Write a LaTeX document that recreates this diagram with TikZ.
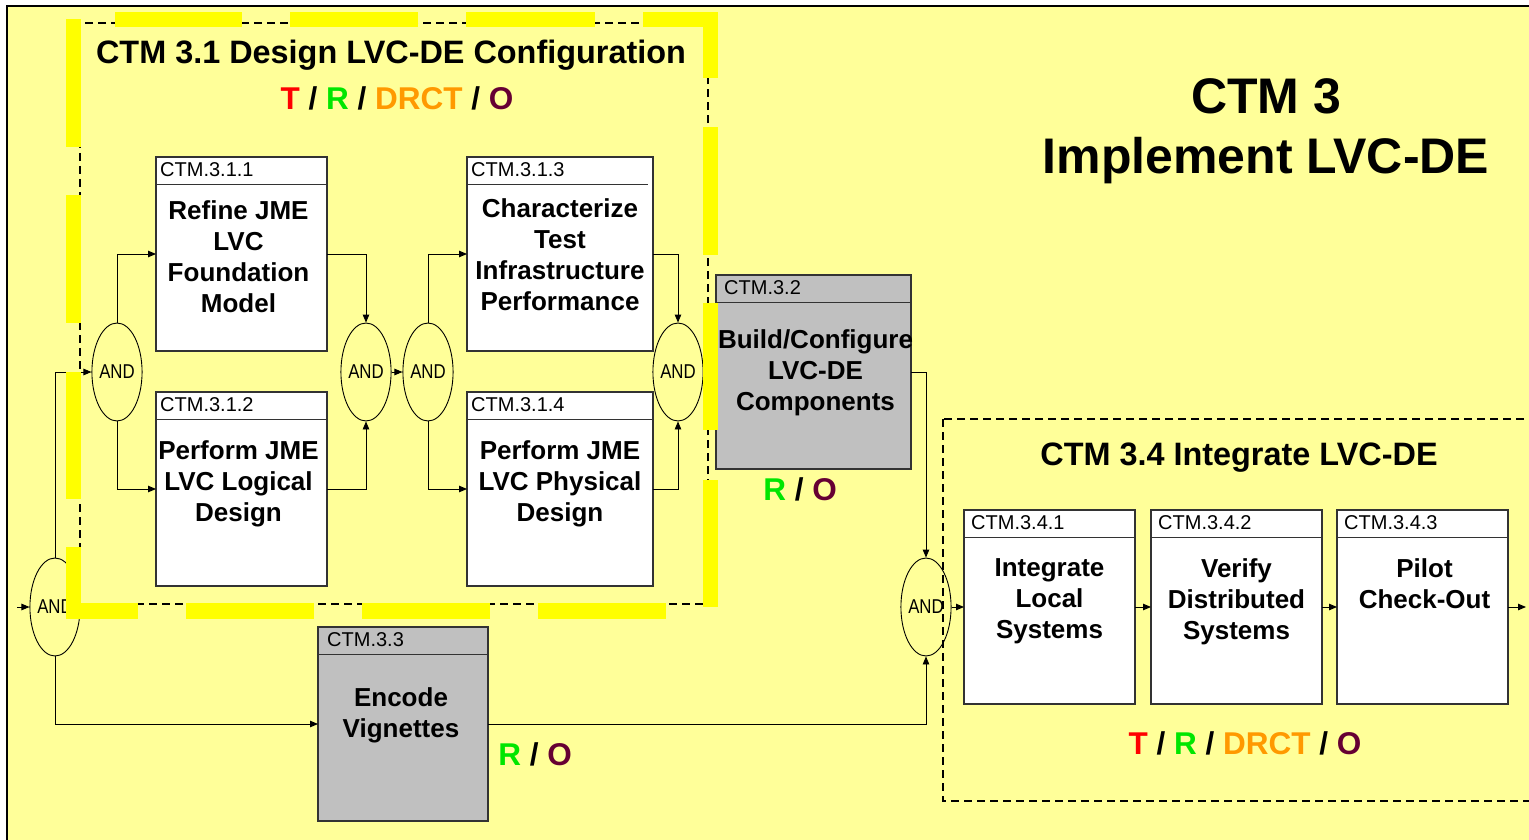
\documentclass[tikz,border=0pt]{standalone}
\usepackage{fontspec}
\setmainfont{Liberation Sans}
\newfontfamily\narrowsans[FakeStretch=0.84]{Liberation Sans}
\usetikzlibrary{arrows.meta,shapes.geometric}
\definecolor{bgy}{HTML}{FFFF99}
\definecolor{hiy}{HTML}{FFFF00}
\definecolor{tred}{HTML}{FF0000}
\definecolor{rgreen}{HTML}{00E600}
\definecolor{dorange}{HTML}{FF9900}
\definecolor{omaroon}{HTML}{660033}
\definecolor{boxgray}{HTML}{C0C0C0}
\newcommand{\TRDOlab}{\textcolor{tred}{T} / \textcolor{rgreen}{R} / \textcolor{dorange}{DRCT} / \textcolor{omaroon}{O}}
\newcommand{\ROlab}{\textcolor{rgreen}{R} / \textcolor{omaroon}{O}}
\begin{document}
\begin{tikzpicture}[x=1pt,y=-1pt,
 box/.style={draw=black!80, line width=1.1pt, fill=white, minimum width=#1, minimum height=194pt, anchor=north west, inner sep=0pt, outer sep=0pt},
 graybox/.style={box=#1, fill=boxgray},
 hline/.style={draw=black!80, line width=1.1pt},
 hdr/.style={anchor=west, inner sep=0pt, font=\fontsize{20}{24}\selectfont},
 body/.style={anchor=north, inner sep=0pt, align=center, font=\fontsize{26}{31}\selectfont\bfseries},
 andnode/.style={ellipse, draw=black, line width=0.9pt, minimum width=46pt, minimum height=98pt, inner sep=0pt, font=\narrowsans\fontsize{20}{22}\selectfont},
 conn/.style={draw=black, line width=0.9pt, -{Triangle[length=8pt,width=6.5pt]}},
 frame/.style={draw=black, line width=1.2pt, dash pattern=on 8pt off 5pt},
 hi/.style={fill=hiy},
 bigtitle/.style={anchor=base, inner sep=0pt, font=\fontsize{32.4}{38}\selectfont\bfseries},
 tag/.style={anchor=base, inner sep=0pt, font=\fontsize{31.5}{36}\selectfont\bfseries}
]
\useasboundingbox (0,0) rectangle (1529,840);
\clip (0,0) rectangle (1529,840);
\fill[white] (0,0) rectangle (1529,840);
\draw[line width=1.5pt, fill=bgy] (7,6) rectangle (1560,860);

% frames
\draw[frame] (80,23) rectangle (708,604);
\draw[frame] (943,419) rectangle (1560,801);

% main title
\node[anchor=north, inner sep=0pt, align=center, font=\fontsize{50}{60}\selectfont\bfseries] (main) at (1266,78) {CTM 3\\Implement LVC-DE};

% CTM 3.1 titles
\node[bigtitle] (t31) at (391,63.5) {CTM 3.1 Design LVC-DE Configuration};
\node[tag] (r31) at (397,110) {\TRDOlab};

% boxes
\node[box=171pt] (b311) at (156,157) {};
\node[box=171pt] (b312) at (156,392) {};
\node[box=186pt] (b313) at (467,157) {};
\node[box=186pt] (b314) at (467,392) {};
\node[graybox=195pt] (b32) at (716,275) {};
\node[graybox=170pt] (b33) at (318,627) {};
\node[box=171pt] (b341) at (964,510) {};
\node[box=171pt] (b342) at (1151,510) {};
\node[box=171pt] (b343) at (1337,510) {};

% header lines
\foreach \b in {b311,b312,b314,b32,b33,b341,b342,b343}
  \draw[hline] ([yshift=-27.5pt]\b.north west) -- ([yshift=-27.5pt]\b.north east);
\draw[hline] ([yshift=-27.5pt]b313.north west) -- ([yshift=-27.5pt,xshift=-5pt]b313.north east);

% header texts
\node[hdr] (h311) at ([xshift=4pt,yshift=-12.5pt]b311.north west) {CTM.3.1.1};
\node[hdr] (h312) at ([xshift=4pt,yshift=-12.5pt]b312.north west) {CTM.3.1.2};
\node[hdr] (h313) at ([xshift=4pt,yshift=-12.5pt]b313.north west) {CTM.3.1.3};
\node[hdr] (h314) at ([xshift=4pt,yshift=-12.5pt]b314.north west) {CTM.3.1.4};
\node[hdr] (h32) at ([xshift=8pt,yshift=-12.5pt]b32.north west) {CTM.3.2};
\node[hdr] (h33) at ([xshift=9pt,yshift=-13pt]b33.north west) {CTM.3.3};
\node[hdr] (h341) at ([xshift=7pt,yshift=-13pt]b341.north west) {CTM.3.4.1};
\node[hdr] (h342) at ([xshift=7pt,yshift=-13pt]b342.north west) {CTM.3.4.2};
\node[hdr] (h343) at ([xshift=7pt,yshift=-13pt]b343.north west) {CTM.3.4.3};

% body texts
\node[body] (x311) at ([xshift=-3pt,yshift=-43pt]b311.north) {Refine JME\\LVC\\Foundation\\Model};
\node[body] (x312) at ([xshift=-3pt,yshift=-48pt]b312.north) {Perform JME\\LVC Logical\\Design};
\node[body] (x313) at ([yshift=-41pt]b313.north) {Characterize\\Test\\Infrastructure\\Performance};
\node[body] (x314) at ([yshift=-48pt]b314.north) {Perform JME\\LVC Physical\\Design};
\node[body] (x32) at ([xshift=2pt,yshift=-54pt]b32.north) {Build/Configure\\LVC-DE\\Components};
\node[body] (x33) at ([xshift=-2pt,yshift=-60pt]b33.north) {Encode\\Vignettes};
\node[body] (x341) at ([yshift=-48pt]b341.north) {Integrate\\Local\\Systems};
\node[body] (x342) at ([yshift=-48pt]b342.north) {Verify\\Distributed\\Systems};
\node[body] (x343) at ([xshift=2pt,yshift=-48pt]b343.north) {Pilot\\Check-Out};

% AND nodes
\node[andnode] (aL) at (55,607) {AND};
\node[andnode] (a1) at (117,372) {AND};
\node[andnode] (a2) at (366,372) {AND};
\node[andnode] (a3) at (428,372) {AND};
\node[andnode] (a4) at (678,372) {AND};
\node[andnode] (a5) at (926,607) {AND};

% connectors
\coordinate (inpt) at (17,607);
\coordinate (outpt) at (1526,607);
\draw[conn] (inpt) -- (aL.west);
\draw[conn] (aL.north) |- (a1.west);
\draw[conn] (aL.south) |- (b33.west);
\draw[conn] (a1.north) |- (b311.west);
\draw[conn] (a1.south) |- (b312.west);
\draw[conn] (b311.east) -| (a2.north);
\draw[conn] (b312.east) -| (a2.south);
\draw[conn] (a2.east) -- (a3.west);
\draw[conn] (a3.north) |- (b313.west);
\draw[conn] (a3.south) |- (b314.west);
\draw[conn] (b313.east) -| (a4.north);
\draw[conn] (b314.east) -| (a4.south);
\draw[conn] (a4.east) -- (b32.west);
\draw[conn] (b32.east) -| (a5.north);
\draw[conn] (b33.east) -| (a5.south);
\draw[conn] (a5.east) -- (b341.west);
\draw[conn] (b341.east) -- (b342.west);
\draw[conn] (b342.east) -- (b343.west);
\draw[conn] (b343.east) -- (outpt);

% labels
\node[tag] (r32) at (800,500) {\ROlab};
\node[tag] (r33) at (535,765) {\ROlab};
\node[bigtitle] (t34) at (1239,465) {CTM 3.4 Integrate LVC-DE};
\node[tag] (r34) at (1245,754) {\TRDOlab};

% yellow highlight dashes of CTM 3.1
\fill[hi] (66,19) rectangle (81,147);
\fill[hi] (66,195) rectangle (81,323);
\fill[hi] (66,372) rectangle (81,499);
\fill[hi] (66,547) rectangle (81,619);
\fill[hi] (66,603) rectangle (138,619);
\fill[hi] (186,603) rectangle (314,619);
\fill[hi] (362,603) rectangle (490,619);
\fill[hi] (538,603) rectangle (666,619);
\fill[hi] (115,12) rectangle (242,27);
\fill[hi] (290,12) rectangle (418,27);
\fill[hi] (466,12) rectangle (595,27);
\fill[hi] (643,12) rectangle (718,27);
\fill[hi] (703,12) rectangle (718,78);
\fill[hi] (703,127) rectangle (718,255);
\fill[hi] (703,303) rectangle (718,430);
\fill[hi] (703,480) rectangle (718,607);
\end{tikzpicture}
\end{document}
